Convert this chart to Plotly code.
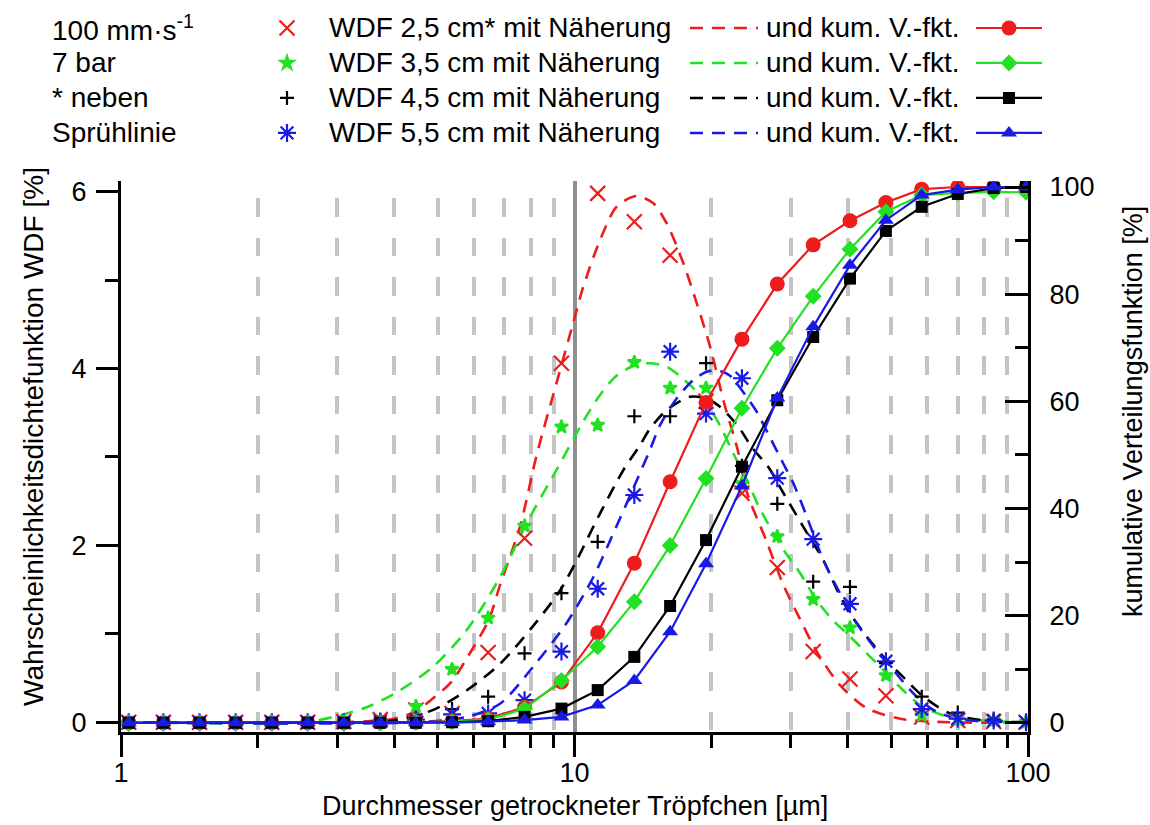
import plotly.graph_objects as go

FONT = "Liberation Sans, Arial, sans-serif"
RED = "#ee1c1c"
GREEN = "#22e022"
BLACK = "#000000"
BLUE = "#1a1ae6"

# ---- data ----
x_bins = [1.04, 1.24, 1.49, 1.79, 2.15, 2.58, 3.10, 3.73, 4.47, 5.37, 6.45, 7.76, 9.36,
          11.25, 13.55, 16.25, 19.50, 23.40, 28.00, 33.60, 40.50, 48.60, 58.30, 70.00, 84.00, 99.00]

wdf_25 = [0, 0, 0, 0, 0, 0, 0.01, 0.03, 0.14, 0.10, 0.79, 2.08, 4.06, 5.98, 5.66, 5.28, 3.63, 2.59,
          1.75, 0.80, 0.49, 0.30, 0.06, 0.02, 0.01, 0.0]
wdf_35 = [0, 0, 0, 0, 0, 0, 0.01, 0.02, 0.18, 0.60, 1.18, 2.22, 3.34, 3.36, 4.07, 3.78, 3.78, 2.70,
          2.10, 1.39, 1.07, 0.53, 0.08, 0.03, 0.02, 0.0]
wdf_45 = [0, 0, 0, 0, 0, 0, 0, 0.02, 0.05, 0.15, 0.29, 0.78, 1.46, 2.04, 3.46, 3.46, 4.06, 2.90,
          2.47, 1.59, 1.53, 0.67, 0.29, 0.11, 0.03, 0.0]
wdf_55 = [0, 0, 0, 0, 0, 0, 0, 0.01, 0.03, 0.09, 0.10, 0.25, 0.80, 1.51, 2.57, 4.19, 3.49, 3.89,
          2.76, 2.07, 1.34, 0.69, 0.15, 0.04, 0.02, 0.0]

cum_25 = [0, 0, 0, 0, 0, 0, 0, 0.1, 0.1, 0.3, 0.8, 2.9, 7.6, 16.8, 29.8, 45.0, 59.8, 71.6, 81.9,
          89.2, 93.7, 97.1, 99.6, 100, 100, 100]
cum_35 = [0, 0, 0, 0, 0, 0, 0, 0, 0.1, 0.2, 0.6, 2.6, 7.9, 14.2, 22.6, 33.1, 45.6, 58.7, 69.9,
          79.6, 88.4, 95.4, 98.5, 98.9, 99.1, 99.0]
cum_45 = [0, 0, 0, 0, 0, 0, 0, 0, 0, 0.1, 0.3, 1.1, 2.65, 6.1, 12.3, 21.8, 34.1, 47.8, 60.2,
          72.0, 82.9, 91.8, 96.3, 98.7, 99.8, 100]
cum_55 = [0, 0, 0, 0, 0, 0, 0, 0, 0, 0.05, 0.2, 0.5, 1.1, 3.3, 7.9, 17.0, 29.7, 44.2, 60.6,
          73.9, 85.4, 93.8, 98.5, 99.5, 100, 100]

fit_x_25 = [1.0, 3.0, 3.7, 4.0, 4.45, 4.9, 5.36, 5.78, 6.46, 6.85, 7.58, 8.25, 9.12, 9.94, 10.45,
            11.38, 12.39, 13.7, 14.9, 15.97, 17.38, 18.6, 19.9, 21.4, 22.9, 24.0, 26.5, 28.9, 31.4,
            34.2, 38.5, 44.1, 52.3, 67.0, 100.0]
fit_y_25 = [0.0, 0.0, 0.02, 0.04, 0.12, 0.28, 0.46, 0.72, 1.15, 1.55, 2.21, 3.02, 3.83, 4.52, 4.92,
            5.45, 5.83, 5.95, 5.87, 5.64, 5.19, 4.74, 4.25, 3.60, 3.08, 2.60, 2.05, 1.55, 1.17,
            0.80, 0.42, 0.16, 0.04, 0.0, 0.0]

fit_x_35 = [1.0, 2.5, 2.94, 3.48, 4.12, 4.88, 5.78, 6.85, 7.84, 9.12, 10.45, 11.38, 12.39, 13.49,
            14.67, 15.97, 17.38, 18.9, 20.6, 22.8, 24.0, 25.6, 28.9, 31.4, 34.2, 37.2, 40.5, 44.1,
            48.0, 53.1, 58.8, 67.3, 80.0, 100.0]
fit_y_35 = [0.0, 0.0, 0.06, 0.17, 0.36, 0.63, 1.04, 1.64, 2.25, 2.85, 3.40, 3.70, 3.92, 4.03,
            4.06, 4.02, 3.88, 3.70, 3.42, 2.96, 2.74, 2.42, 1.95, 1.69, 1.38, 1.15, 0.97, 0.78,
            0.59, 0.36, 0.17, 0.06, 0.02, 0.0]

fit_x_45 = [1.0, 3.5, 3.98, 4.88, 5.78, 6.85, 8.11, 9.29, 10.11, 11.38, 12.81, 13.94, 14.67, 15.97,
            17.97, 19.56, 20.9, 23.0, 24.6, 26.8, 28.9, 31.96, 35.4, 37.9, 40.5, 44.1, 48.0, 53.1,
            58.8, 67.3, 80.0, 100.0]
fit_y_45 = [0.0, 0.0, 0.02, 0.14, 0.36, 0.66, 1.09, 1.49, 1.83, 2.36, 2.85, 3.13, 3.32, 3.53,
            3.68, 3.66, 3.57, 3.34, 3.11, 2.88, 2.59, 2.21, 1.83, 1.50, 1.23, 0.97, 0.74, 0.51,
            0.29, 0.10, 0.02, 0.0]

fit_x_55 = [1.0, 4.5, 5.78, 6.85, 8.11, 9.6, 11.0, 11.97, 13.49, 14.67, 15.44, 16.8, 18.28, 19.5,
            20.6, 22.0, 23.5, 25.3, 26.5, 28.9, 30.4, 32.5, 35.4, 38.5, 41.9, 45.6, 50.5, 55.8,
            61.8, 70.0, 87.0, 100.0]
fit_y_55 = [0.0, 0.0, 0.06, 0.21, 0.63, 1.12, 1.64, 2.05, 2.65, 3.08, 3.36, 3.66, 3.87, 3.96,
            3.98, 3.92, 3.74, 3.50, 3.30, 2.92, 2.70, 2.33, 1.83, 1.46, 1.12, 0.86, 0.59, 0.33,
            0.14, 0.04, 0.0, 0.0]

side_labels = ["100 mm·s<sup>-1</sup>", "7 bar", "* neben", "Sprühlinie"]
wdf_names = ["WDF 2,5 cm* mit Näherung", "WDF 3,5 cm mit Näherung",
             "WDF 4,5 cm mit Näherung", "WDF 5,5 cm mit Näherung"]
cum_name = "und kum. V.-fkt."

x_major = [1, 10, 100]
x_minor = [2, 3, 4, 5, 6, 7, 8, 9, 20, 30, 40, 50, 60, 70, 80, 90]
y1_major = [0, 2, 4, 6]
y1_minor = [1, 3, 5]
y2_major = [0, 20, 40, 60, 80, 100]
y2_minor = [10, 30, 50, 70, 90]

series = [
    dict(color=RED, wdf=wdf_25, fx=fit_x_25, fy=fit_y_25, cum=cum_25,
         wsym="x-thin", wsize=15, csym="circle", csize=15),
    dict(color=GREEN, wdf=wdf_35, fx=fit_x_35, fy=fit_y_35, cum=cum_35,
         wsym="star", wsize=10, csym="diamond", csize=13),
    dict(color=BLACK, wdf=wdf_45, fx=fit_x_45, fy=fit_y_45, cum=cum_45,
         wsym="cross-thin", wsize=10, csym="square", csize=12),
    dict(color=BLUE, wdf=wdf_55, fx=fit_x_55, fy=fit_y_55, cum=cum_55,
         wsym="asterisk", wsize=15, csym="triangle-up", csize=14),
]

DASH = "13px,9px"
fig = go.Figure()

for s in series:
    fig.add_trace(go.Scatter(
        x=s["fx"], y=s["fy"], mode="lines", name=" ", legend="legend2",
        line=dict(color=s["color"], width=2.6, dash=DASH, shape="spline", smoothing=0.8),
        hoverinfo="skip"))

for s in series:
    fig.add_trace(go.Scatter(
        x=x_bins, y=s["wdf"], mode="markers", name=" ", legend="legend",
        marker=dict(symbol=s["wsym"], size=s["wsize"], color=s["color"],
                    line=dict(color=s["color"], width=2.2))))

for s in series:
    fig.add_trace(go.Scatter(
        x=x_bins, y=s["cum"], mode="lines+markers", name=" ", legend="legend3", yaxis="y2",
        line=dict(color=s["color"], width=2.2),
        marker=dict(symbol=s["csym"], size=s["csize"], color=s["color"],
                    line=dict(width=0))))

# plot area in pixels: left 121, right 1028, top 181, bottom 732
L, R, T, B = 121, 1028, 181, 732
W, H = 1150, 825


def px(X):
    return (X - L) / (R - L)


def py(Y):
    return (B - Y) / (B - T)


grid_dash = "0px,17px," + ",".join(["18.5px,21px"] * 15)

fig.update_layout(
    width=W, height=H,
    margin=dict(l=L, r=W - R, t=T, b=H - B, autoexpand=False),
    paper_bgcolor="white", plot_bgcolor="white",
    font=dict(family=FONT, size=27, color="black"),
    xaxis=dict(
        type="log", range=[0, 2], showline=True, linecolor="black", linewidth=3,
        ticks="outside", ticklen=22, tickwidth=3, tickcolor="black",
        tickmode="array", tickvals=x_major, ticktext=[str(v) for v in x_major],
        tickfont=dict(size=27), ticklabelstandoff=-7,
        showgrid=True, gridcolor="#8f8f8f", gridwidth=3.5, zeroline=False,
        minor=dict(tickmode="array", tickvals=x_minor, ticks="outside", ticklen=13,
                   tickwidth=3, tickcolor="black", showgrid=True, gridcolor="#c4c4c4",
                   gridwidth=3.5, griddash=grid_dash),
    ),
    yaxis=dict(
        range=[-0.1097, 6.12], showline=True, linecolor="black", linewidth=3,
        ticks="outside", ticklen=22, tickwidth=3, tickcolor="black",
        tickmode="array", tickvals=y1_major, tickfont=dict(size=27),
        ticklabelstandoff=4, showgrid=False, zeroline=False,
        minor=dict(tickmode="array", tickvals=y1_minor, ticks="outside", ticklen=13,
                   tickwidth=3, tickcolor="black", showgrid=False),
    ),
    yaxis2=dict(
        overlaying="y", side="right", anchor="x",
        range=[-1.718, 101.12], showline=True, linecolor="black", linewidth=3,
        ticks="inside", ticklen=23, tickwidth=3, tickcolor="black",
        tickmode="array", tickvals=y2_major, tickfont=dict(size=27),
        ticklabelstandoff=13, showgrid=False, zeroline=False,
        minor=dict(tickmode="array", tickvals=y2_minor, ticks="inside", ticklen=13,
                   tickwidth=3, tickcolor="black", showgrid=False),
    ),
)

leg_common = dict(xanchor="left", yanchor="top", y=py(5.5), bgcolor="rgba(0,0,0,0)",
                  font=dict(family=FONT, size=24.6), itemsizing="trace", tracegroupgap=0,
                  orientation="v", traceorder="normal")
fig.update_layout(
    legend=dict(x=px(267), itemwidth=30, **leg_common),
    legend2=dict(x=px(685), itemwidth=68, **leg_common),
    legend3=dict(x=px(971), itemwidth=66, **leg_common),
)

row_y = [27.5, 62.5, 97.5, 132.5]
ann = []
for i in range(4):
    ann.append(dict(x=px(50), y=py(row_y[i]), xref="paper", yref="paper", text=side_labels[i],
                    showarrow=False, xanchor="left", yanchor="middle",
                    font=dict(size=28, family=FONT, color="black")))
    ann.append(dict(x=px(327), y=py(row_y[i]), xref="paper", yref="paper", text=wdf_names[i],
                    showarrow=False, xanchor="left", yanchor="middle",
                    font=dict(size=28, family=FONT, color="black")))
    ann.append(dict(x=px(764), y=py(row_y[i]), xref="paper", yref="paper", text=cum_name,
                    showarrow=False, xanchor="left", yanchor="middle",
                    font=dict(size=28, family=FONT, color="black")))

ann.append(dict(x=0.5, y=py(806), xref="paper", yref="paper",
                text="Durchmesser getrockneter Tröpfchen [µm]", showarrow=False,
                xanchor="center", yanchor="middle", font=dict(size=27, family=FONT)))
ann.append(dict(x=px(33), y=py(437), xref="paper", yref="paper",
                text="Wahrscheinlichkeitsdichtefunktion WDF [%]", showarrow=False,
                textangle=-90, xanchor="center", yanchor="middle",
                font=dict(size=28, family=FONT)))
ann.append(dict(x=px(1133), y=py(412), xref="paper", yref="paper",
                text="kumulative Verteilungsfunktion [%]", showarrow=False,
                textangle=-90, xanchor="center", yanchor="middle",
                font=dict(size=27, family=FONT)))
fig.update_layout(annotations=ann)

fig.write_html("out.html", config={"displayModeBar": False},
               post_script="document.body.style.margin='0';")
